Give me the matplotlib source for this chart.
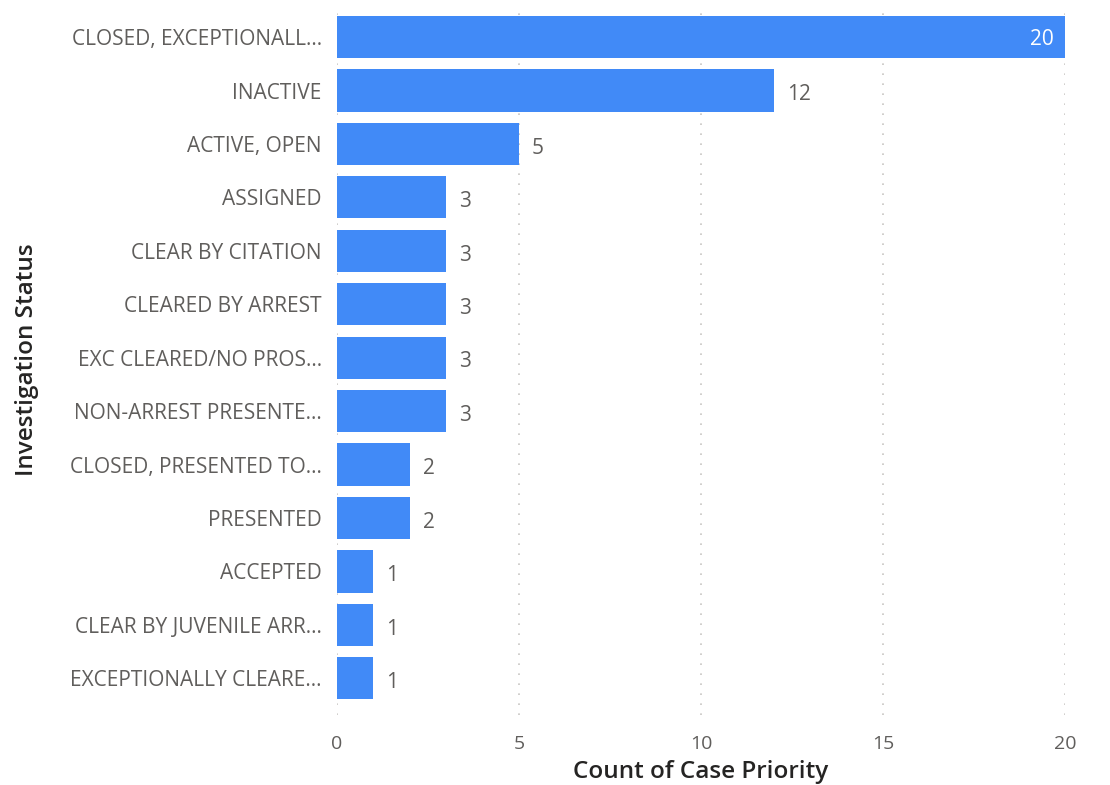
import matplotlib.pyplot as plt

statuses = [
    "CLOSED, EXCEPTIONALL...",
    "INACTIVE",
    "ACTIVE, OPEN",
    "ASSIGNED",
    "CLEAR BY CITATION",
    "CLEARED BY ARREST",
    "EXC CLEARED/NO PROS...",
    "NON-ARREST PRESENTE...",
    "CLOSED, PRESENTED TO...",
    "PRESENTED",
    "ACCEPTED",
    "CLEAR BY JUVENILE ARR...",
    "EXCEPTIONALLY CLEARE...",
]
counts = [20, 12, 5, 3, 3, 3, 3, 3, 2, 2, 1, 1, 1]
xticks = [0, 5, 10, 15, 20]

plt.rcParams["font.family"] = ["Open Sans", "DejaVu Sans"]

fig = plt.figure(figsize=(11.1, 7.85), dpi=100)
ax = fig.add_axes([0.3036, 0.089, 0.6559, 0.9046])

ypos = list(range(len(statuses)))
ax.barh(ypos, counts, height=0.79, color="#418AF7")

ax.set_xlim(0, 20)
ax.set_ylim(12.69, -0.6)
ax.set_yticks(ypos)
ax.set_yticklabels(statuses, fontsize=15, color="#605E5C")
ax.set_xticks(xticks)
ax.set_xticklabels([str(t) for t in xticks], fontsize=14, color="#605E5C")
ax.tick_params(length=0)
ax.tick_params(axis="x", pad=14)
ax.tick_params(axis="y", pad=11)

for s in ax.spines.values():
    s.set_visible(False)
ax.grid(axis="x", color="#C8C6C4", linestyle=(0, (1, 5)), linewidth=1.2)
ax.set_axisbelow(True)

for y, v in zip(ypos, counts):
    if v == max(counts):
        ax.text(v - 0.3, y + 0.05, str(v), ha="right", va="center",
                fontsize=15, color="white")
    else:
        ax.text(v + 0.35, y + 0.08, str(v), ha="left", va="center",
                fontsize=15, color="#605E5C")

ax.set_xlabel("Count of Case Priority", fontsize=17.5, color="#252423",
              fontweight="semibold", labelpad=5)
ax.set_ylabel("Investigation Status", fontsize=17.5, color="#252423",
              fontweight="semibold", labelpad=22)

fig.savefig("out.png", dpi=100)
